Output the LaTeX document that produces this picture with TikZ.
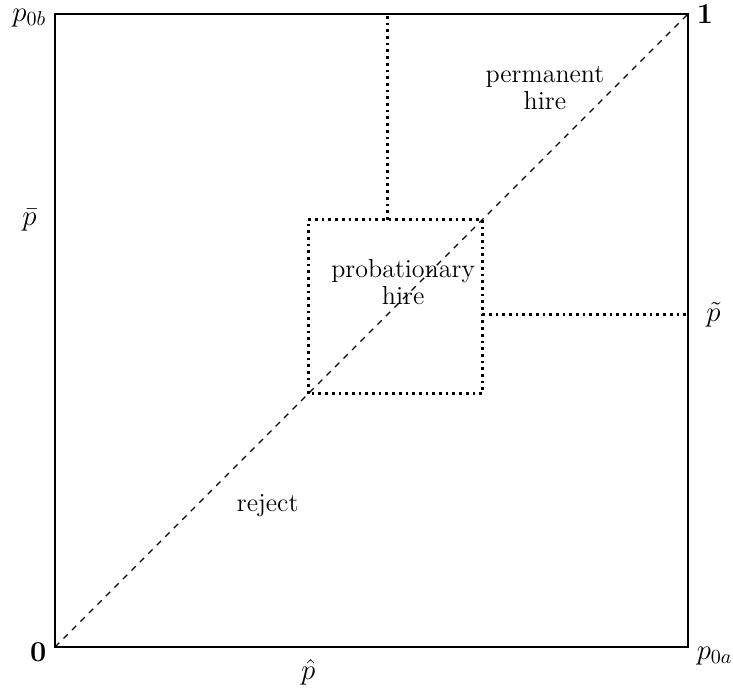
\documentclass[tikz,border=0pt]{standalone}
\usepackage{amsmath}

\begin{document}
\begin{tikzpicture}[x=316.5pt,y=316.5pt,
    lab/.style={font=\fontsize{14}{15}\selectfont},
    region/.style={font=\fontsize{13}{13.5}\selectfont,align=center},
    edge/.style={line width=1.1pt},
    cut/.style={line width=1.35pt,dotted}]
    \useasboundingbox (-0.0869,-0.0664) rectangle (1.0711,1.0221);
    \coordinate (O) at (0,0);
    \coordinate (A) at (1,0);
    \coordinate (B) at (0,1);
    \coordinate (C) at (1,1);
    \draw[edge] (B) -- (O) -- (A) -- (C) -- cycle;
    \draw[dashed,line width=0.6pt] (O) -- (C);
    % probationary square
    \draw[cut] (0.4,0.4) rectangle (0.675,0.675);
    \draw[cut] (0.525,0.675) -- (0.525,1);
    \draw[cut] (0.675,0.525) -- (1,0.525);
    \node[lab,anchor=east,xshift=-0.3mm,yshift=-0.9mm] (zero) at (O) {$\mathbf{0}$};
    \node[lab,right=0.3mm] (one) at (C) {$\mathbf{1}$};
    \node[lab,anchor=east,xshift=-0.3mm,yshift=-0.7mm] (pob) at (B) {$p_{0b}$};
    \node[lab,anchor=west,xshift=0.3mm,yshift=-1.6mm] (poa) at (A) {$p_{0a}$};
    \node[lab,left=2mm] (pbar) at (0,0.675) {$\bar{p}$};
    \node[lab,right=2mm] (ptilde) at (1,0.525) {$\tilde{p}$};
    \node[lab,below=1mm] (phat) at (0.4,0) {$\hat{p}$};
    \node[region] (perm) at (0.774,0.883) {permanent\\hire};
    \node[region] (prob) at (0.55,0.577) {probationary\\hire};
    \node[region] (rej) at (0.336,0.224) {reject};
\end{tikzpicture}
\end{document}
